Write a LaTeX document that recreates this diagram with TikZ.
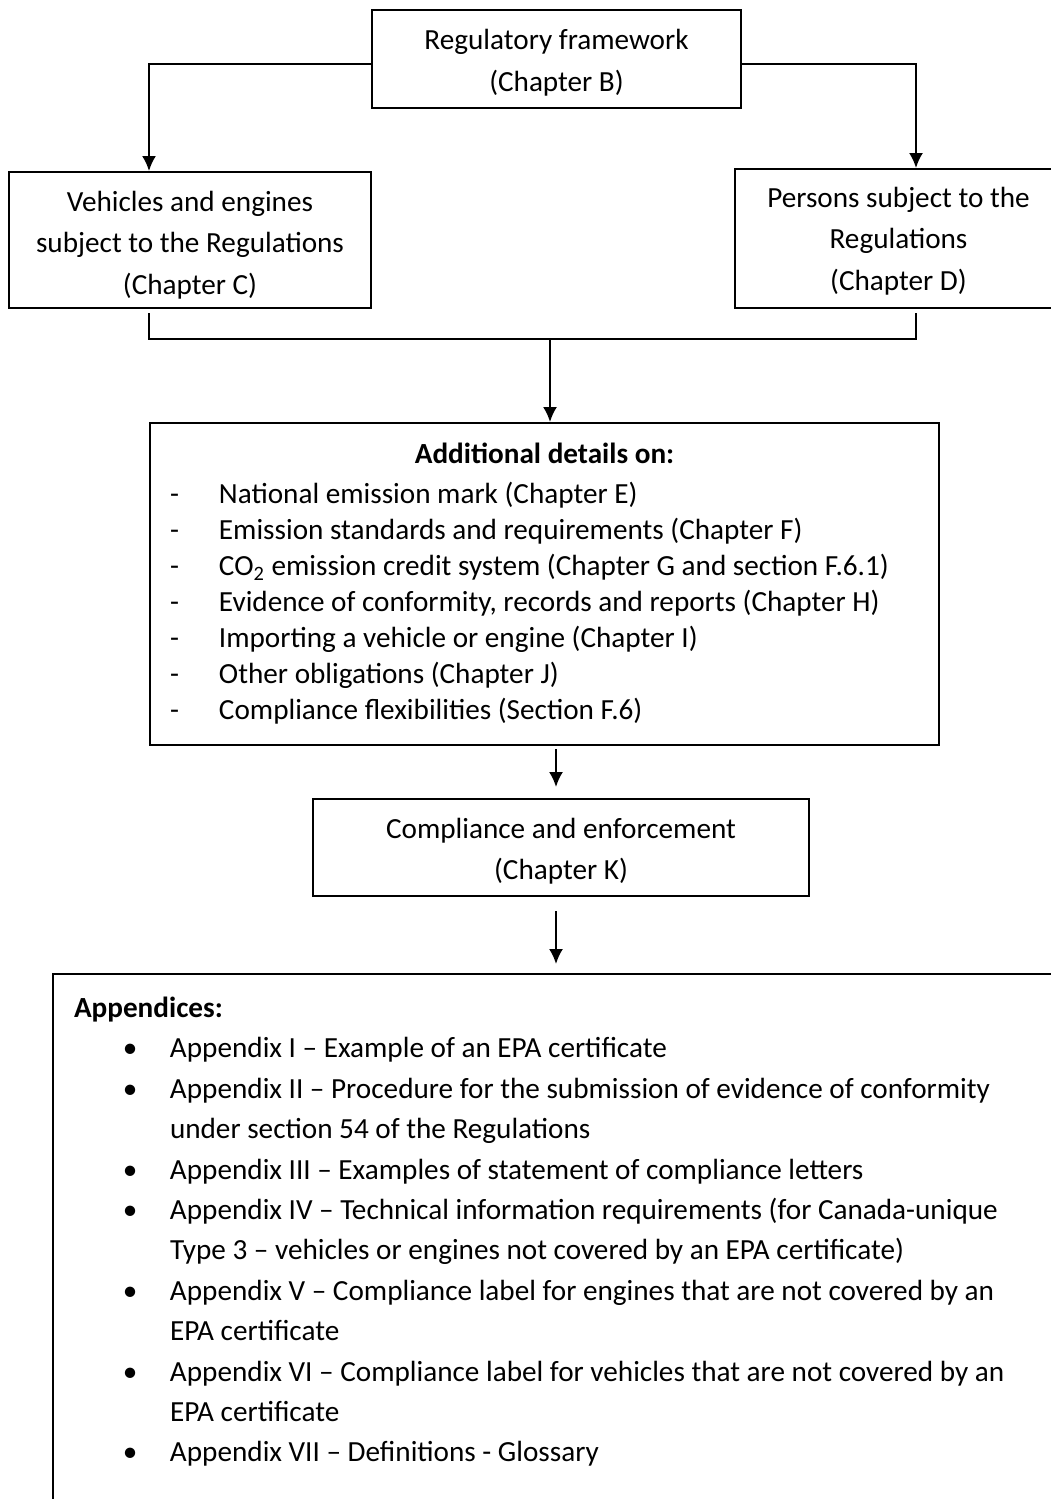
\documentclass[tikz,border=0pt]{standalone}
\usepackage{fontspec}
\setmainfont{Carlito}
\usetikzlibrary{arrows.meta,positioning}

\newcommand{\liftline}[1]{\rule{0pt}{#1}}
\newcommand{\sinkline}{\rule[-5pt]{0pt}{0pt}}
\newcommand{\detailitem}[1]{\makebox[24.5pt][l]{-}#1}
\newcommand{\appitem}[1]{\hspace*{24.5pt}\makebox[23.5pt][l]{\textbullet}#1}
\newcommand{\appmore}[1]{\hspace*{48pt}#1}

\begin{document}
\begin{tikzpicture}[x=0.5pt,y=-0.5pt,
	every node/.style={font=\fontsize{14.6pt}{20.75pt}\selectfont},
	box/.style={draw, line width=1pt, align=center, inner sep=0pt},
	link/.style={line width=1pt},
	>={Latex[length=7.5pt,width=7pt]}]
	\useasboundingbox (0,0) rectangle (1050,1499);

	\node[box, minimum width=184.5pt, minimum height=49pt, font=\fontsize{14.6pt}{21pt}\selectfont] (frame) at (556.5,59) {\liftline{16pt}Regulatory framework\\(Chapter B)\sinkline};
	\node[box, minimum width=181pt, minimum height=68pt] (vehicles) at (190,240) {\liftline{17.5pt}Vehicles and engines\\subject to the Regulations\\(Chapter C)\sinkline};
	\node[box, minimum width=163.5pt, minimum height=69.5pt] (persons) at (898.5,238.5) {\liftline{15pt}Persons subject to the\\Regulations\\(Chapter D)\sinkline};

	\node[box, align=flush left, inner xsep=10pt, text width=374.5pt, minimum height=161pt,
		font=\fontsize{14.6pt}{18pt}\selectfont] (details) at (544.5,584) {%
		\hfill\textbf{Additional details on:}\hfill\null\\[2pt]
		\detailitem{National emission mark (Chapter E)}\\
		\detailitem{Emission standards and requirements (Chapter F)}\\
		\detailitem{CO\textsubscript{2} emission credit system (Chapter G and section F.6.1)}\\
		\detailitem{Evidence of conformity, records and reports (Chapter H)}\\
		\detailitem{Importing a vehicle or engine (Chapter I)}\\
		\detailitem{Other obligations (Chapter J)}\\
		\detailitem{Compliance flexibilities (Section F.6)}};

	\node[box, minimum width=248pt, minimum height=48.5pt] (enforce) at (561,847.5) {\liftline{16.25pt}Compliance and enforcement\\(Chapter K)\sinkline};

	\node[box, align=flush left, anchor=north west, inner xsep=10.5pt, inner ysep=11.5pt, text width=500pt,
		font=\fontsize{14.6pt}{20.2pt}\selectfont] (appendices) at (52,973) {%
		\textbf{Appendices:}\\
		\appitem{Appendix I – Example of an EPA certificate}\\
		\appitem{Appendix II – Procedure for the submission of evidence of conformity}\\
		\appmore{under section 54 of the Regulations}\\
		\appitem{Appendix III – Examples of statement of compliance letters}\\
		\appitem{Appendix IV – Technical information requirements (for Canada-unique}\\
		\appmore{Type 3 – vehicles or engines not covered by an EPA certificate)}\\
		\appitem{Appendix V – Compliance label for engines that are not covered by an}\\
		\appmore{EPA certificate}\\
		\appitem{Appendix VI – Compliance label for vehicles that are not covered by an}\\
		\appmore{EPA certificate}\\
		\appitem{Appendix VII – Definitions - Glossary}\\
		\mbox{}\\
		\mbox{}};

	\coordinate (merge) at (550,339);
	\draw[link,->] ([yshift=-2.5pt]frame.west) -| ([xshift=-20.5pt]vehicles.north);
	\draw[link,->] ([yshift=-2.5pt]frame.east) -| ([xshift=8.75pt]persons.north);
	\draw[link] ([xshift=-20.5pt,yshift=-2pt]vehicles.south) |- (merge);
	\draw[link] ([xshift=8.75pt,yshift=-2pt]persons.south) |- (merge);
	\draw[link,->] (merge) -- (merge |- details.north);
	\draw[link,->,shorten >=5.5pt] ([xshift=5.75pt,yshift=-1.5pt]details.south) -- ([xshift=5.75pt]details.south |- enforce.north);
	\draw[link,->,shorten >=4.5pt] ([xshift=-2.5pt,yshift=-7pt]enforce.south) -- ([xshift=-2.5pt]enforce.south |- appendices.north);
\end{tikzpicture}
\end{document}
